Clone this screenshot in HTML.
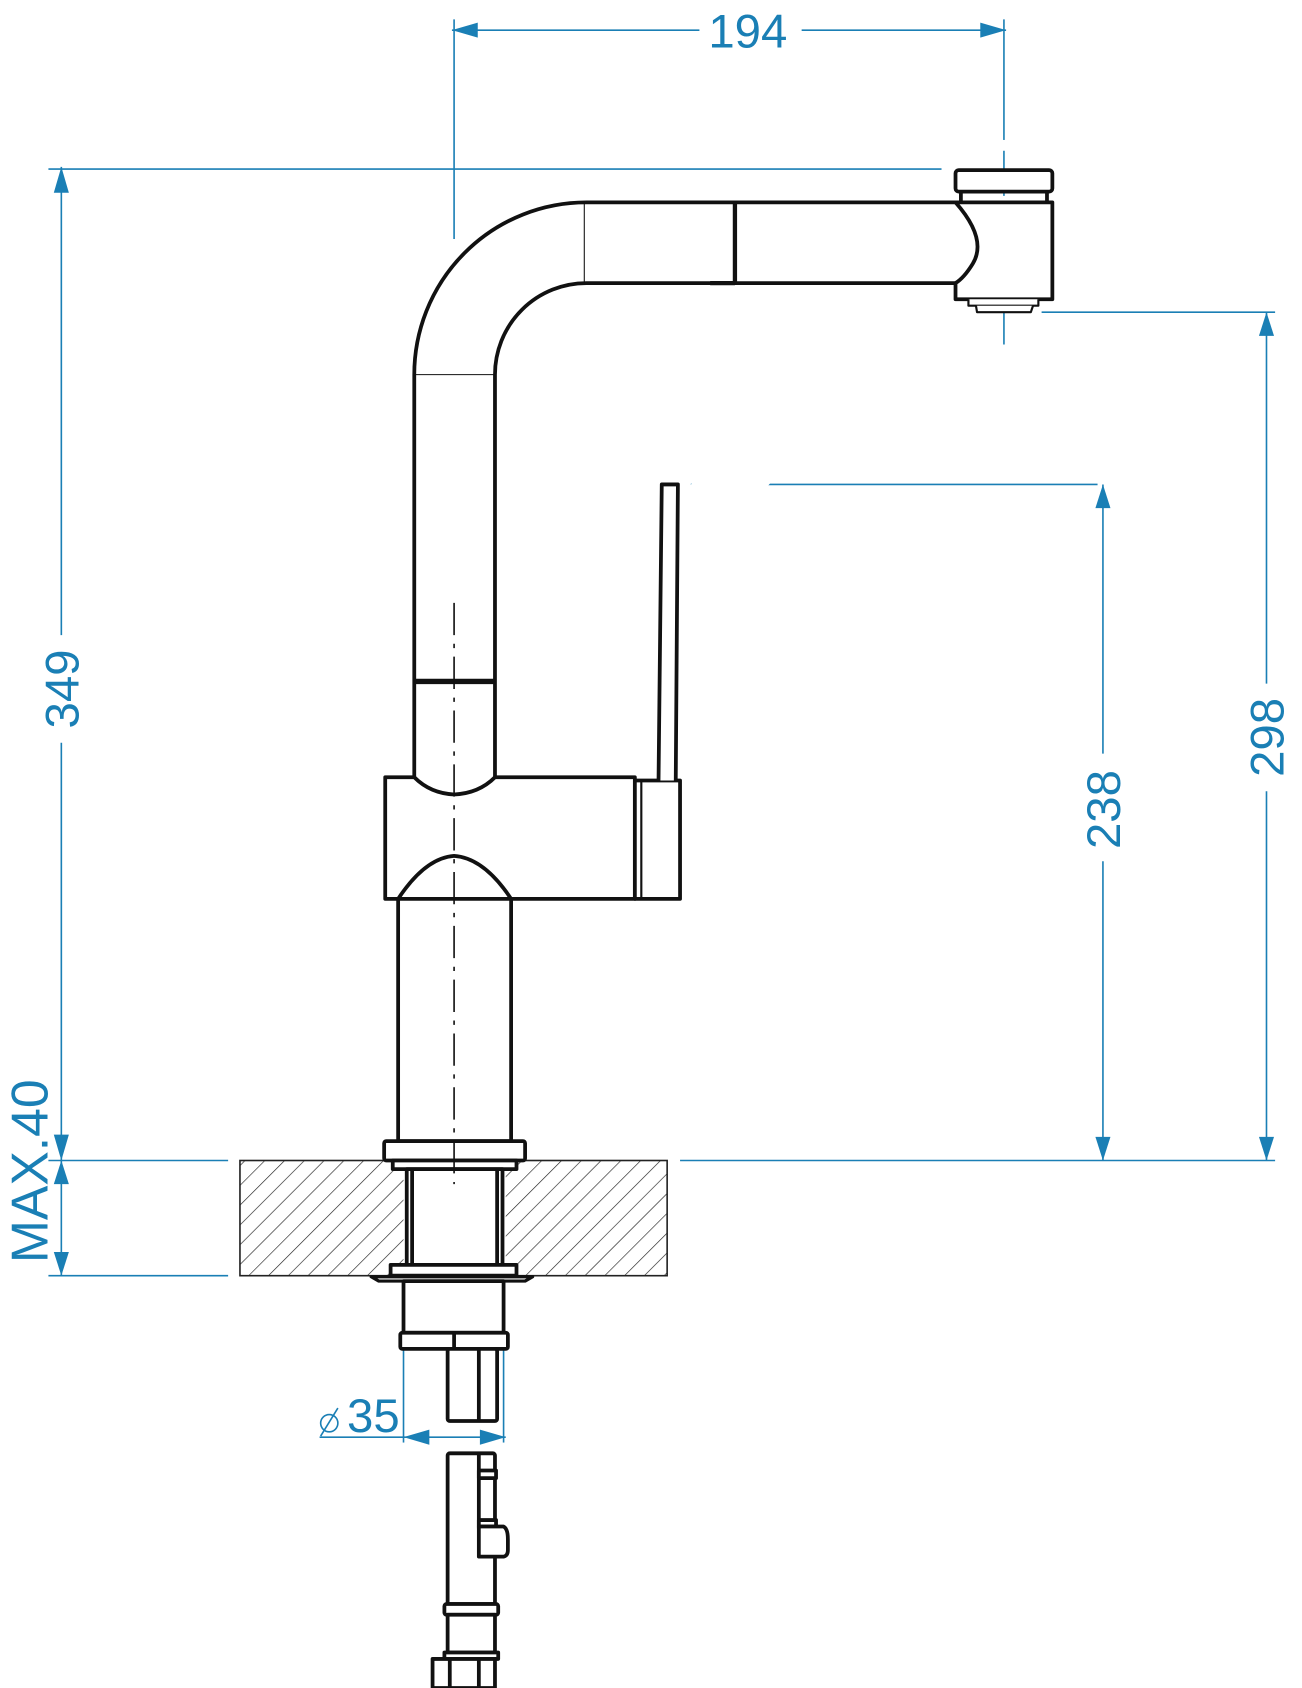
<!DOCTYPE html>
<html><head><style>html,body{margin:0;padding:0;background:#fff}svg{display:block}</style></head><body>
<svg width="1302" height="1688" viewBox="0 0 1210 1568" preserveAspectRatio="none" xmlns="http://www.w3.org/2000/svg">
<defs>
<pattern id="h" width="13" height="13" patternUnits="userSpaceOnUse" patternTransform="rotate(45)">
<line x1="0" y1="0" x2="0" y2="13" stroke="#222" stroke-width="1.2"/></pattern>
</defs>
<g stroke="#1a7fb5" stroke-width="1.5" fill="none">
<line x1="420" y1="28" x2="650" y2="28"/><line x1="745" y1="28" x2="935" y2="28"/>
<line x1="422" y1="18" x2="422" y2="222"/>
<line x1="933" y1="18" x2="933" y2="130"/>
<line x1="933" y1="140" x2="933" y2="328" stroke-dasharray="30,8,4,8"/>
<line x1="45" y1="157" x2="875" y2="157"/>
<line x1="57" y1="155" x2="57" y2="590"/><line x1="57" y1="690" x2="57" y2="1185"/>
<line x1="45" y1="1078" x2="212" y2="1078"/><line x1="45" y1="1185" x2="212" y2="1185"/>
<line x1="632" y1="1078" x2="1185" y2="1078"/>
<line x1="642" y1="450" x2="1020" y2="450"/>
<line x1="968" y1="290" x2="1185" y2="290"/>
<line x1="1025" y1="450" x2="1025" y2="700"/><line x1="1025" y1="800" x2="1025" y2="1078"/>
<line x1="1177" y1="290" x2="1177" y2="635"/><line x1="1177" y1="735" x2="1177" y2="1078"/>
<line x1="375" y1="1253" x2="375" y2="1340"/><line x1="468" y1="1253" x2="468" y2="1340"/>
<line x1="297" y1="1335" x2="470" y2="1335"/>
</g>
<g fill="#1a7fb5">
<polygon points="420,28 444,21 444,35"/><polygon points="935,28 911,21 911,35"/>
<polygon points="57,155 50,179 64,179"/><polygon points="57,1078 50,1054 64,1054"/>
<polygon points="57,1078 50,1100 64,1100"/><polygon points="57,1185 50,1163 64,1163"/>
<polygon points="1025,450 1018,472 1032,472"/><polygon points="1025,1078 1018,1056 1032,1056"/>
<polygon points="1177,290 1170,312 1184,312"/><polygon points="1177,1078 1170,1056 1184,1056"/>
<polygon points="375,1335 399,1328 399,1342"/><polygon points="470,1335 446,1328 446,1342"/>
</g>
<g fill="#1a7fb5" font-family="Liberation Sans, sans-serif" font-size="44" text-anchor="middle">
<text x="695" y="44">194</text>
<text transform="translate(73,640) rotate(-90)">349</text>
<text transform="translate(1041,752) rotate(-90)">238</text>
<text transform="translate(1193,685) rotate(-90)">298</text>
<text transform="translate(44,1088) rotate(-90)" font-size="48">MAX.40</text>
<text x="347" y="1330">35</text>
</g>
<g stroke="#1a7fb5" stroke-width="1.5" fill="none"><circle cx="306" cy="1322" r="8"/><line x1="298" y1="1334" x2="314" y2="1308"/></g>
<rect x="223" y="1078" width="397" height="107" fill="url(#h)" stroke="#222" stroke-width="1.5"/>
<rect x="375" y="1079" width="95" height="105" fill="#fff"/>
<g stroke="#111" stroke-width="3.5" fill="#fff" stroke-linejoin="round">
<path d="M385,722 L385,348 A160,160 0 0 1 545,188 L890,188 M890,263 L545,263 A85,85 0 0 0 460,348 L460,722"/>
<path d="M888,188 L978,188 L978,278 L888,278 L888,263 Q896,258 904,245 Q918,222 888,188 Z"/>
<rect x="888" y="158" width="90" height="20" rx="3"/>
<line x1="893" y1="178" x2="893" y2="188"/><line x1="973" y1="178" x2="973" y2="188"/>
<path d="M900,278 L900,284 L965,284 L965,278" stroke-width="2"/>
<path d="M907,284 L908,290 L958,290 L960,284" stroke-width="2"/>
<line x1="683" y1="188" x2="683" y2="263" stroke-width="4"/>
<line x1="660" y1="263" x2="683" y2="263" stroke-width="4"/>
<line x1="543" y1="188" x2="543" y2="263" stroke-width="1"/>
<line x1="385" y1="348" x2="460" y2="348" stroke-width="1"/>
<line x1="385" y1="633" x2="460" y2="633" stroke-width="5"/>
<path d="M358,722 L385,722 Q400,737 422,738 Q445,737 460,722 L590,722 L590,835 L475,835 Q450,797 422,795 Q395,797 370,835 L358,835 Z"/>
<rect x="370" y="835" width="105" height="225"/>
<rect x="590" y="725" width="42" height="110"/>
<line x1="596" y1="725" x2="596" y2="835" stroke-width="2"/>
<path d="M612,725 L615,450 L630,450 L628,725"/>
<rect x="357" y="1060" width="131" height="18" rx="2"/>
<rect x="365" y="1078" width="115" height="8"/>
<rect x="378" y="1086" width="89" height="89"/>
<line x1="383" y1="1086" x2="383" y2="1175"/><line x1="462" y1="1086" x2="462" y2="1175"/>
<rect x="363" y="1175" width="117" height="10"/>
<path d="M345,1186 L495,1186 L488,1190 L352,1190 Z" stroke-width="3"/>
<rect x="375" y="1190" width="93" height="48"/>
<rect x="372" y="1238" width="100" height="15" rx="2"/>
<line x1="422" y1="1238" x2="422" y2="1253"/>
<rect x="416" y="1253" width="46" height="67" rx="2"/>
<line x1="445" y1="1253" x2="445" y2="1320"/>
<rect x="416" y="1350" width="44" height="140" rx="2"/>
<line x1="445" y1="1350" x2="445" y2="1420"/>
<rect x="445" y="1366" width="16" height="7"/>
<rect x="445" y="1412" width="16" height="6"/>
<path d="M445,1418 L468,1418 Q472,1420 472,1430 L472,1440 Q472,1445 468,1446 L445,1446 Z"/>
<rect x="413" y="1490" width="50" height="10" rx="2"/>
<rect x="416" y="1500" width="44" height="35"/>
<rect x="413" y="1535" width="50" height="6"/>
<rect x="402" y="1541" width="58" height="27"/>
<line x1="418" y1="1541" x2="418" y2="1568"/><line x1="445" y1="1541" x2="445" y2="1568"/>
</g>
<line x1="422" y1="560" x2="422" y2="1100" stroke="#111" stroke-width="1.5" stroke-dasharray="30,8,4,8"/>
</svg>
</body></html>
